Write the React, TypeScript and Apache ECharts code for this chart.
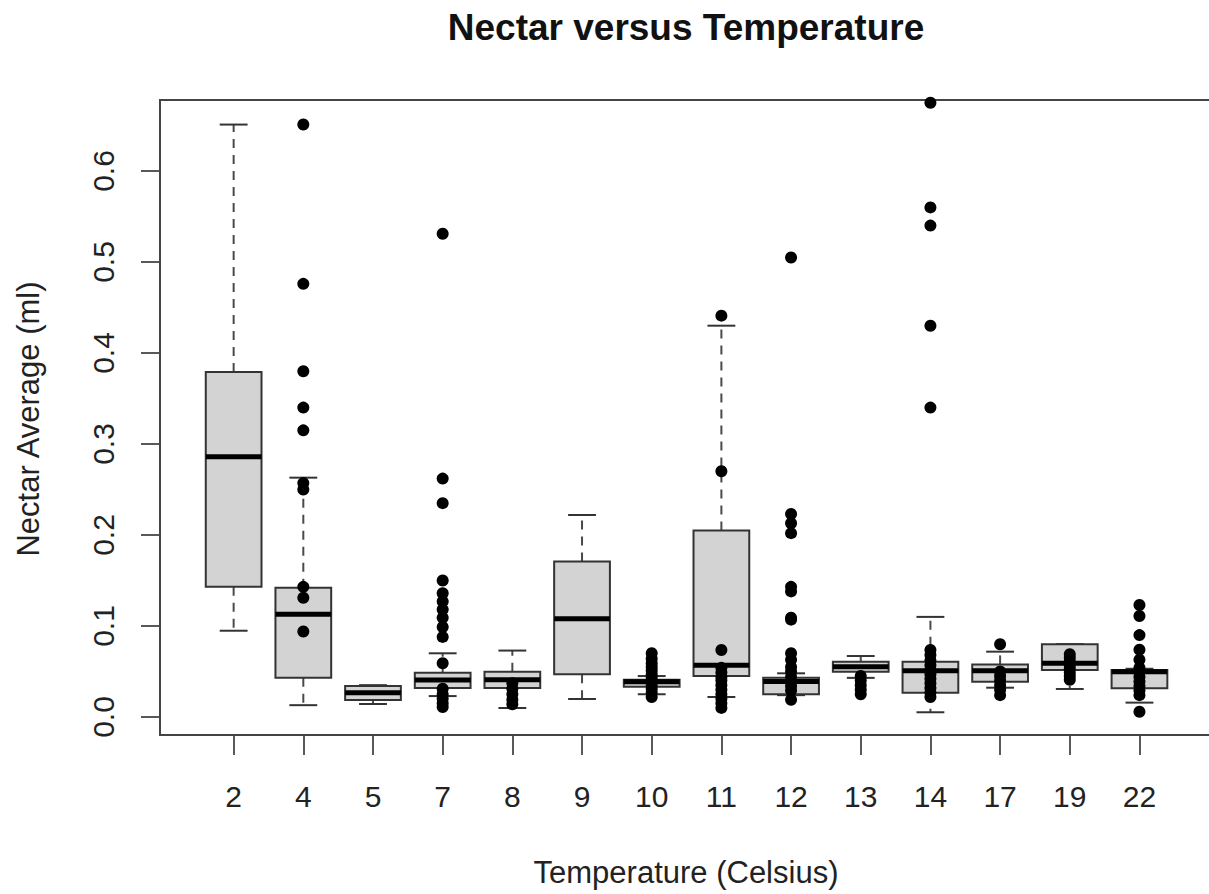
import React, { useEffect, useRef } from 'react';
import * as echarts from 'echarts';

// Temperature categories (Celsius)
const categories = ['2', '4', '5', '7', '8', '9', '10', '11', '12', '13', '14', '17', '19', '22'];

// Box statistics (ml)
const whiskerLow = [0.0948, 0.013, 0.0143, 0.023, 0.0099, 0.0198, 0.025, 0.022, 0.024, 0.043, 0.0052, 0.0322, 0.0308, 0.0158];
const quartile1 = [0.143, 0.043, 0.0187, 0.032, 0.032, 0.047, 0.0333, 0.045, 0.025, 0.0498, 0.0267, 0.0388, 0.0516, 0.0315];
const medians = [0.286, 0.113, 0.0267, 0.0407, 0.041, 0.108, 0.0388, 0.057, 0.039, 0.0553, 0.0509, 0.0509, 0.059, 0.0498];
const quartile3 = [0.379, 0.142, 0.034, 0.0487, 0.0498, 0.171, 0.041, 0.205, 0.043, 0.0608, 0.0608, 0.0578, 0.08, 0.0516];
const whiskerHigh = [0.651, 0.263, 0.035, 0.07, 0.073, 0.222, 0.045, 0.43, 0.048, 0.067, 0.11, 0.0718, 0.08, 0.053];

// Plotted points per temperature
const points2: number[] = [];
const points4 = [0.651, 0.476, 0.38, 0.34, 0.315, 0.257, 0.25, 0.143, 0.131, 0.094];
const points5: number[] = [];
const points7 = [0.531, 0.262, 0.235, 0.15, 0.136, 0.127, 0.118, 0.109, 0.099, 0.088, 0.059, 0.031, 0.025, 0.02, 0.015, 0.011];
const points8 = [0.037, 0.031, 0.025, 0.019, 0.014];
const points9: number[] = [];
const points10 = [0.07, 0.064, 0.059, 0.055, 0.051, 0.047, 0.043, 0.039, 0.035, 0.031, 0.027, 0.022];
const points11 = [0.441, 0.27, 0.0736, 0.054, 0.049, 0.044, 0.04, 0.035, 0.03, 0.025, 0.02, 0.015, 0.01];
const points12 = [0.505, 0.223, 0.213, 0.202, 0.143, 0.138, 0.109, 0.107, 0.07, 0.063, 0.055, 0.05, 0.044, 0.039, 0.034, 0.029, 0.019];
const points13 = [0.045, 0.04, 0.035, 0.03, 0.025];
const points14 = [0.675, 0.56, 0.54, 0.43, 0.34, 0.0736, 0.068, 0.062, 0.057, 0.052, 0.047, 0.042, 0.037, 0.032, 0.027, 0.022];
const points17 = [0.08, 0.05, 0.045, 0.04, 0.035, 0.03, 0.024];
const points19 = [0.069, 0.065, 0.061, 0.057, 0.053, 0.049, 0.045, 0.041];
const points22 = [0.123, 0.111, 0.09, 0.074, 0.063, 0.054, 0.049, 0.044, 0.039, 0.034, 0.029, 0.024, 0.0058];

const pointGroups = [points2, points4, points5, points7, points8, points9, points10, points11, points12, points13, points14, points17, points19, points22];

const yTicks = [0, 0.1, 0.2, 0.3, 0.4, 0.5, 0.6];

const FONT = '"Liberation Sans", Arial, Helvetica, sans-serif';

const boxRows = categories.map((_, i) => [i, whiskerLow[i], quartile1[i], medians[i], quartile3[i], whiskerHigh[i]]);
const pointRows = pointGroups.flatMap((arr, i) => arr.map((v) => [i, v]));

function renderBox(_params: any, api: any) {
  const i = api.value(0);
  const band = api.size([1, 0])[0];
  const half = band * 0.4;
  const staple = half / 2;
  const p = (v: number) => api.coord([i, v]);
  const [cx, yLow] = p(api.value(1));
  const yQ1 = p(api.value(2))[1];
  const yMed = p(api.value(3))[1];
  const yQ3 = p(api.value(4))[1];
  const yHigh = p(api.value(5))[1];
  const dashStyle = { stroke: '#4a4a4a', lineWidth: 2, lineDash: [9, 7] };
  const solid = { stroke: '#333', lineWidth: 2 };
  return {
    type: 'group',
    children: [
      { type: 'line', shape: { x1: cx, y1: yQ3, x2: cx, y2: yHigh }, style: dashStyle },
      { type: 'line', shape: { x1: cx, y1: yQ1, x2: cx, y2: yLow }, style: dashStyle },
      { type: 'line', shape: { x1: cx - staple, y1: yHigh, x2: cx + staple, y2: yHigh }, style: solid },
      { type: 'line', shape: { x1: cx - staple, y1: yLow, x2: cx + staple, y2: yLow }, style: solid },
      {
        type: 'rect',
        shape: { x: cx - half, y: yQ3, width: half * 2, height: yQ1 - yQ3 },
        style: { fill: '#d3d3d3', stroke: '#333', lineWidth: 2 },
      },
      { type: 'line', shape: { x1: cx - half, y1: yMed, x2: cx + half, y2: yMed }, style: { stroke: '#000', lineWidth: 5 } },
    ],
  };
}

const GRID_LEFT = 198.8;
const GRID_WIDTH = 975.5;
const GRID_TOP = 100;
const GRID_HEIGHT = 635;

const option: any = {
  animation: false,
  backgroundColor: '#ffffff',
  textStyle: { fontFamily: FONT },
  grid: { left: GRID_LEFT, top: GRID_TOP, width: GRID_WIDTH, height: GRID_HEIGHT, containLabel: false },
  xAxis: {
    type: 'category',
    data: categories,
    boundaryGap: true,
    axisLine: { show: false, onZero: false },
    axisTick: { show: true, alignWithLabel: true, interval: 0, length: 20, lineStyle: { color: '#222', width: 1.5 } },
    axisLabel: { interval: 0, fontSize: 30, color: '#222', margin: 46, fontFamily: FONT },
    splitLine: { show: false },
  },
  yAxis: {
    type: 'value',
    min: -0.01978,
    max: 0.678,
    offset: GRID_LEFT - 160,
    axisLine: { show: false },
    axisTick: { show: true, length: 19, customValues: yTicks, lineStyle: { color: '#222', width: 1.5 } },
    axisLabel: {
      customValues: yTicks,
      rotate: 90,
      fontSize: 30,
      color: '#222',
      margin: 42,
      fontFamily: FONT,
      formatter: (v: number) => v.toFixed(1),
    },
    splitLine: { show: false },
  },
  graphic: [
    {
      type: 'rect',
      shape: { x: 160, y: 100, width: 1053, height: 635 },
      style: { fill: 'none', stroke: '#444', lineWidth: 2 },
      z: 1,
    },
    {
      type: 'text',
      x: 686,
      y: 27,
      style: { text: 'Nectar versus Temperature', font: `bold 37px ${FONT}`, fill: '#111', textAlign: 'center', textVerticalAlign: 'middle' },
    },
    {
      type: 'text',
      x: 686,
      y: 872,
      style: { text: 'Temperature (Celsius)', font: `31px ${FONT}`, fill: '#222', textAlign: 'center', textVerticalAlign: 'middle' },
    },
    {
      type: 'text',
      x: 28,
      y: 419,
      rotation: Math.PI / 2,
      style: { text: 'Nectar Average (ml)', font: `31px ${FONT}`, fill: '#222', textAlign: 'center', textVerticalAlign: 'middle' },
    },
  ],
  series: [
    {
      type: 'custom',
      name: 'box',
      renderItem: renderBox,
      data: boxRows,
      encode: { x: 0, y: [1, 2, 3, 4, 5] },
      z: 2,
    },
    {
      type: 'scatter',
      name: 'points',
      data: pointRows,
      symbol: 'circle',
      symbolSize: 12,
      itemStyle: { color: '#000', opacity: 1 },
      z: 3,
    },
  ],
};

export default function App() {
  const ref = useRef<HTMLDivElement>(null);
  useEffect(() => {
    document.body.style.margin = '0';
    const chart = echarts.init(ref.current as HTMLDivElement, null, { renderer: 'svg' });
    chart.setOption(option);
    return () => chart.dispose();
  }, []);
  return <div ref={ref} style={{ width: 1209, height: 894 }} />;
}
